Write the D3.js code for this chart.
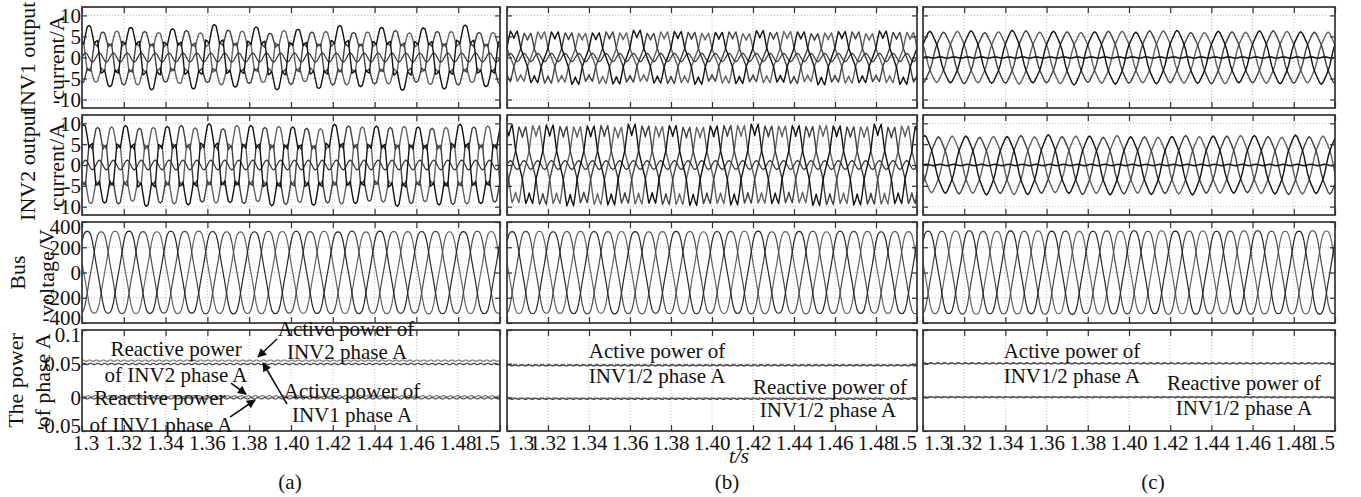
<!DOCTYPE html>
<html>
<head>
<meta charset="utf-8">
<script src="https://cdn.jsdelivr.net/npm/d3@7"></script>
<style>
  body { margin: 0; background: #fff; }
  text { font-family: "Liberation Serif", "Times New Roman", serif; fill: #111; }
</style>
</head>
<body>
<svg id="chart" width="1361" height="497"></svg>
<script>
// ---------- time axis (s) ----------
const timeStart = 1.3;
const timeEnd = 1.5;
const timeTicks = [1.3, 1.32, 1.34, 1.36, 1.38, 1.40, 1.42, 1.44, 1.46, 1.48, 1.5];
const timeTickLabels = ["1.3", "1.32", "1.34", "1.36", "1.38", "1.40", "1.42", "1.44", "1.46", "1.48", "1.5"];
const fundamentalHz = 50;
const samplesPerCycle = 24;
const halfCycleCount = 20;

// ---------- rows ----------
const rowTitles = [["INV1 output", "current/A"], ["INV2 output", "current/A"], ["Bus", "voltage/V"], ["The power", "of phase A"]];
const rowDomains = [[-12, 12], [-12, 12], [-400, 400], [-0.05, 0.1]];
const rowTicks = [[-10, -5, 0, 5, 10], [-10, -5, 0, 5, 10], [-400, -200, 0, 200, 400], [-0.05, 0, 0.05, 0.1]];
const rowTickLabels = [["-10", "-5", "0", "5", "10"], ["-10", "-5", "0", "5", "10"], ["-400", "-200", "0", "200", "400"], ["-0.05", "0", "0.05", "0.1"]];
const caseLabels = ["(a)", "(b)", "(c)"];

// ---------- one fundamental period of each waveform, per unit, 15° steps ----------
const currentCycleDroop = [0, 0.587, 0.55, 0.467, 0.779, 1.054, 1.10, 1.054, 0.779, 0.467, 0.55, 0.587,
                           0, -0.587, -0.55, -0.467, -0.779, -1.054, -1.10, -1.054, -0.779, -0.467, -0.55, -0.587];
const currentCycleShared = [0, 0.191, 0.385, 0.756, 1.065, 0.948, 0.77, 0.948, 1.065, 0.756, 0.385, 0.191,
                            0, -0.191, -0.385, -0.756, -1.065, -0.948, -0.77, -0.948, -1.065, -0.756, -0.385, -0.191];
const currentCycleClean = [0, 0.298, 0.52, 0.679, 0.831, 0.976, 1.04, 0.976, 0.831, 0.679, 0.52, 0.298,
                           0, -0.298, -0.52, -0.679, -0.831, -0.976, -1.04, -0.976, -0.831, -0.679, -0.52, -0.298];
const voltageCycle = [0, 0.23, 0.485, 0.728, 0.892, 0.958, 0.97, 0.958, 0.892, 0.728, 0.485, 0.23,
                      0, -0.23, -0.485, -0.728, -0.892, -0.958, -0.97, -0.958, -0.892, -0.728, -0.485, -0.23];
// zero-sequence ripple over one third of a period
const neutralRipple = [0, 0.7, 1, 0.7, 0, -0.7, -1, -0.7];
// power ripple over one 300 Hz period
const powerRipple = [0, 0.87, 0.87, 0, -0.87, -0.87];
const powerRipplesPerWindow = 60;

// ---------- peak value of every half cycle, phases a / b / c ----------
// INV1 output current (A)
const inv1CurrentCaseA = [[6.9, 6.3, 6.5, 7.0, 6.2, 6.8, 7.1, 6.4, 6.6, 7.0, 6.1, 6.7, 6.9, 6.3, 6.5, 7.1, 6.4, 6.8, 7.0, 6.3],
                          [5.5, 5.9, 5.6, 5.3, 5.8, 5.4, 5.9, 5.6, 5.2, 5.8, 5.5, 5.9, 5.4, 5.7, 5.8, 5.3, 5.6, 5.9, 5.4, 5.7],
                          [5.8, 5.3, 5.7, 5.9, 5.4, 5.6, 5.3, 5.9, 5.7, 5.4, 5.8, 5.2, 5.6, 5.9, 5.5, 5.7, 5.3, 5.8, 5.6, 5.4]];
const inv1CurrentCaseB = [[5.9, 5.6, 5.7, 6.0, 5.5, 5.9, 6.1, 5.7, 5.8, 6.0, 5.6, 5.8, 6.0, 5.5, 5.7, 6.1, 5.8, 5.6, 5.9, 6.0],
                          [5.4, 5.7, 5.5, 5.3, 5.7, 5.5, 5.4, 5.8, 5.6, 5.3, 5.7, 5.4, 5.6, 5.8, 5.3, 5.5, 5.7, 5.4, 5.6, 5.5],
                          [5.6, 5.3, 5.7, 5.5, 5.4, 5.8, 5.5, 5.3, 5.7, 5.6, 5.4, 5.7, 5.3, 5.6, 5.8, 5.4, 5.5, 5.7, 5.3, 5.6]];
const inv1CurrentCaseC = [[6.0, 5.8, 6.1, 5.9, 6.2, 5.8, 6.0, 6.3, 5.9, 6.1, 5.8, 6.0, 6.2, 5.9, 6.0, 5.8, 6.1, 6.0, 5.9, 6.1],
                          [5.8, 6.0, 5.7, 5.9, 6.1, 5.8, 5.9, 5.7, 6.0, 5.9, 6.1, 5.8, 5.7, 6.0, 5.9, 5.8, 6.1, 5.9, 5.8, 6.0],
                          [5.9, 5.7, 6.0, 5.8, 5.9, 6.1, 5.8, 6.0, 5.7, 5.9, 6.0, 5.8, 6.1, 5.9, 5.7, 6.0, 5.8, 5.9, 6.0, 5.8]];
// INV2 output current (A)
const inv2CurrentCaseA = [[8.8, 8.3, 8.6, 9.0, 8.4, 8.7, 9.0, 8.2, 8.6, 8.9, 8.3, 8.8, 8.9, 8.4, 8.5, 9.0, 8.3, 8.7, 8.9, 8.4],
                          [8.2, 8.5, 8.0, 8.3, 8.6, 8.1, 7.9, 8.4, 8.2, 8.6, 8.0, 8.3, 8.5, 7.9, 8.2, 8.4, 8.0, 8.6, 8.3, 8.1],
                          [8.0, 8.4, 8.3, 7.9, 8.2, 8.5, 8.1, 8.3, 8.6, 8.0, 8.4, 8.2, 7.9, 8.5, 8.3, 8.1, 8.4, 8.0, 8.2, 8.5]];
const inv2CurrentCaseB = [[9.1, 8.7, 9.0, 9.2, 8.8, 9.0, 9.2, 8.6, 8.9, 9.1, 8.8, 9.0, 9.2, 8.7, 8.9, 9.1, 8.8, 9.0, 9.2, 8.7],
                          [8.6, 8.9, 8.7, 8.5, 8.9, 8.6, 8.8, 8.9, 8.5, 8.7, 8.9, 8.6, 8.8, 8.5, 8.7, 8.9, 8.6, 8.8, 8.5, 8.7],
                          [8.8, 8.5, 8.9, 8.7, 8.6, 8.9, 8.5, 8.8, 8.7, 8.9, 8.5, 8.7, 8.9, 8.6, 8.8, 8.5, 8.9, 8.7, 8.6, 8.8]];
const inv2CurrentCaseC = [[6.8, 6.5, 6.7, 6.9, 6.6, 6.8, 7.0, 6.6, 6.7, 6.9, 6.5, 6.8, 6.6, 6.9, 6.7, 6.5, 6.8, 6.7, 6.9, 6.6],
                          [6.5, 6.7, 6.4, 6.6, 6.8, 6.5, 6.6, 6.8, 6.4, 6.7, 6.5, 6.6, 6.8, 6.5, 6.7, 6.4, 6.6, 6.8, 6.5, 6.7],
                          [6.6, 6.4, 6.7, 6.5, 6.6, 6.8, 6.5, 6.4, 6.7, 6.6, 6.8, 6.5, 6.4, 6.7, 6.6, 6.5, 6.8, 6.6, 6.4, 6.7]];
// bus voltage (V)
const busVoltageCaseA = [[336, 333, 338, 334, 337, 332, 335, 338, 333, 336, 337, 334, 332, 336, 338, 333, 335, 337, 334, 336],
                         [333, 336, 334, 332, 336, 338, 333, 335, 337, 332, 334, 336, 338, 333, 335, 332, 336, 334, 337, 333],
                         [335, 332, 337, 335, 333, 336, 338, 334, 332, 336, 335, 333, 337, 335, 332, 336, 334, 338, 333, 335]];
const busVoltageCaseB = [[334, 337, 333, 336, 335, 338, 334, 333, 336, 337, 335, 334, 338, 333, 336, 335, 337, 334, 333, 336],
                         [336, 333, 335, 338, 334, 336, 333, 337, 335, 334, 336, 338, 333, 335, 337, 334, 336, 333, 335, 337],
                         [333, 335, 337, 334, 336, 333, 335, 338, 334, 336, 333, 335, 337, 336, 334, 338, 333, 335, 336, 334]];
const busVoltageCaseC = [[339, 336, 341, 337, 340, 336, 338, 342, 337, 339, 341, 336, 338, 340, 337, 339, 341, 337, 338, 340],
                         [337, 340, 336, 339, 337, 341, 338, 336, 340, 338, 337, 341, 339, 336, 338, 340, 337, 339, 341, 336],
                         [338, 336, 339, 341, 336, 338, 340, 337, 336, 339, 338, 336, 341, 337, 339, 336, 340, 338, 337, 339]];
// zero-sequence current amplitude (A) for each case
const neutralInv1 = [1.1, 1.0, 0.12];
const neutralInv2 = [1.2, 1.1, 0.15];

// phase-A active / reactive power (p.u.) for each case
const activeInv1 = [0.0495, 0.0474, 0.0503];
const activeInv2 = [0.0545, 0.0478, 0.0507];
const reactiveInv1 = [-0.0015, -0.0022, 0.0001];
const reactiveInv2 = [0.0015, -0.0017, 0.0005];
const powerRippleAmp = [0.0011, 0.0009, 0.0009];

// ---------- layout ----------
const columns = [{x0: 82, x1: 500}, {x0: 507, x1: 917}, {x0: 923, x1: 1335}];
const rows = [{y0: 7, y1: 108}, {y0: 115, y1: 215}, {y0: 222, y1: 323}, {y0: 330, y1: 431}];
const titleBaselines = [[35, 64], [35, 64], [25, 54], [23, 50]];
const currentColors = ["#111111", "#404040", "#636363"];
const voltageColors = ["#262626", "#4a4a4a", "#656565"];
const frameColor = "#333333";
const fontSize = 21;
const titleFontSize = 22;

const svg = d3.select("#chart");
const defs = svg.append("defs");

// series builders
const halfCycle = samplesPerCycle / 2;
function phaseSeries(cycle, peaks, shift) {
  const n = halfCycleCount * halfCycle;
  const dt = 1 / (fundamentalHz * samplesPerCycle);
  const out = [];
  for (let i = 0; i <= n; i++) {
    const k = i + shift + samplesPerCycle;
    const idx = k % samplesPerCycle;
    const h = Math.min(peaks.length - 1, Math.max(0, Math.floor(k / halfCycle) - 2));
    out.push({t: timeStart + i * dt, v: cycle[idx] * peaks[h]});
  }
  return out;
}
function neutralSeries(amp) {
  const n = halfCycleCount * halfCycle;
  const dt = 1 / (fundamentalHz * samplesPerCycle);
  return d3.range(n + 1).map(i => ({t: timeStart + i * dt, v: neutralRipple[i % neutralRipple.length] * amp}));
}
function powerSeries(level, amp, shift) {
  const n = powerRipplesPerWindow * powerRipple.length;
  const dt = (timeEnd - timeStart) / n;
  return d3.range(n + 1).map(i => ({t: timeStart + i * dt, v: level + powerRipple[(i + shift) % powerRipple.length] * amp}));
}

const currentCycles = [currentCycleDroop, currentCycleShared, currentCycleClean];
const inv1Cases = [inv1CurrentCaseA, inv1CurrentCaseB, inv1CurrentCaseC];
const inv2Cases = [inv2CurrentCaseA, inv2CurrentCaseB, inv2CurrentCaseC];
const busCases = [busVoltageCaseA, busVoltageCaseB, busVoltageCaseC];
const third = samplesPerCycle / 3;

function panelSeries(r, c) {
  if (r === 0 || r === 1) {
    const peaks = r === 0 ? inv1Cases[c] : inv2Cases[c];
    const start = r === 0 ? 2 : 5;
    const neutral = r === 0 ? neutralInv1[c] : neutralInv2[c];
    return [
      {pts: phaseSeries(currentCycles[c], peaks[2], start + third), color: currentColors[2], w: 1.4},
      {pts: phaseSeries(currentCycles[c], peaks[1], start - third), color: currentColors[1], w: 1.4},
      {pts: neutralSeries(neutral), color: c === 2 ? "#1a1a1a" : "#333", w: c === 2 ? 1.6 : 1.2},
      {pts: phaseSeries(currentCycles[c], peaks[0], start), color: currentColors[0], w: 1.4}
    ];
  }
  if (r === 2) {
    const peaks = busCases[c];
    const start = 3;
    return [
      {pts: phaseSeries(voltageCycle, peaks[2], start + third), color: voltageColors[2], w: 1.2},
      {pts: phaseSeries(voltageCycle, peaks[1], start - third), color: voltageColors[1], w: 1.2},
      {pts: phaseSeries(voltageCycle, peaks[0], start), color: voltageColors[0], w: 1.2}
    ];
  }
  return [
    {pts: powerSeries(activeInv2[c], powerRippleAmp[c], 1), color: "#7a7a7a", w: 1.2},
    {pts: powerSeries(activeInv1[c], powerRippleAmp[c], 0), color: "#4a4a4a", w: 1.2},
    {pts: powerSeries(reactiveInv2[c], powerRippleAmp[c], 2), color: "#7a7a7a", w: 1.2},
    {pts: powerSeries(reactiveInv1[c], powerRippleAmp[c], 0), color: "#4a4a4a", w: 1.2}
  ];
}

// annotations in the power row, in data coordinates (t, p.u.)
const powerNotes = [
  {col: 0, text: "Active power of", t: 1.4263, v: 0.0911},
  {col: 0, text: "INV2 phase A", t: 1.4268, v: 0.0569},
  {col: 0, text: "Reactive power", t: 1.3450, v: 0.0614},
  {col: 0, text: "of INV2 phase A", t: 1.3450, v: 0.0227},
  {col: 0, text: "Active power of", t: 1.4292, v: -0.0010},
  {col: 0, text: "INV1 phase A", t: 1.4292, v: -0.0367},
  {col: 0, text: "Reactive power", t: 1.3373, v: -0.0114},
  {col: 0, text: "of INV1 phase A", t: 1.3378, v: -0.0516},
  {col: 1, text: "Active power of", t: 1.3732, v: 0.0584},
  {col: 1, text: "INV1/2 phase A", t: 1.3732, v: 0.0212},
  {col: 1, text: "Reactive power of", t: 1.4576, v: 0.0046},
  {col: 1, text: "INV1/2 phase A", t: 1.4566, v: -0.0293},
  {col: 2, text: "Active power of", t: 1.3723, v: 0.0584},
  {col: 2, text: "INV1/2 phase A", t: 1.3723, v: 0.0212},
  {col: 2, text: "Reactive power of", t: 1.4558, v: 0.0108},
  {col: 2, text: "INV1/2 phase A", t: 1.4558, v: -0.0263}
];
const powerArrows = [
  {t0: 1.3933, v0: 0.0866, t1: 1.3842, v1: 0.0599},
  {t0: 1.3981, v0: -0.0100, t1: 1.3866, v1: 0.0510},
  {t0: 1.3713, v0: 0.0212, t1: 1.3785, v1: 0.0046},
  {t0: 1.3708, v0: -0.0293, t1: 1.3828, v1: -0.0040}
];

defs.append("marker")
  .attr("id", "head").attr("viewBox", "0 0 10 10")
  .attr("refX", 9).attr("refY", 5)
  .attr("markerWidth", 11).attr("markerHeight", 9)
  .attr("markerUnits", "userSpaceOnUse")
  .attr("orient", "auto")
  .append("path").attr("d", "M0,0 L10,5 L0,10 Z").attr("fill", "#111");

const line = d3.line();

rows.forEach((row, r) => {
  const y = d3.scaleLinear().domain(rowDomains[r]).range([row.y1, row.y0]);

  columns.forEach((col, c) => {
    const x = d3.scaleLinear().domain([timeStart, timeEnd]).range([col.x0, col.x1]);
    const g = svg.append("g");
    const clipId = `clip-${r}-${c}`;
    defs.append("clipPath").attr("id", clipId)
      .append("rect").attr("x", col.x0).attr("y", row.y0)
      .attr("width", col.x1 - col.x0).attr("height", row.y1 - row.y0);

    // dotted grid
    const grid = g.append("g").attr("stroke", "#b0b0b0").attr("stroke-width", 0.8).attr("stroke-dasharray", "1,2");
    grid.selectAll("line.vx").data(timeTicks.slice(1, -1)).join("line")
      .attr("x1", d => x(d)).attr("x2", d => x(d)).attr("y1", row.y0).attr("y2", row.y1);
    grid.selectAll("line.hy").data(rowTicks[r].filter(v => v > rowDomains[r][0] && v < rowDomains[r][1])).join("line")
      .attr("x1", col.x0).attr("x2", col.x1).attr("y1", d => y(d)).attr("y2", d => y(d));

    // waveforms
    const traces = g.append("g").attr("clip-path", `url(#${clipId})`);
    line.x(d => x(d.t)).y(d => y(d.v));
    panelSeries(r, c).forEach(s => {
      traces.append("path").attr("d", line(s.pts))
        .attr("fill", "none").attr("stroke", s.color).attr("stroke-width", s.w)
        .attr("stroke-linejoin", "round");
    });

    // inward ticks on all four sides
    const tickLen = 6;
    const axTop = g.append("g").attr("transform", `translate(0,${row.y0})`)
      .call(d3.axisBottom(x).tickValues(timeTicks).tickSize(tickLen).tickFormat(""));
    const axBot = g.append("g").attr("transform", `translate(0,${row.y1})`)
      .call(d3.axisTop(x).tickValues(timeTicks).tickSize(tickLen).tickFormat(""));
    const axL = g.append("g").attr("transform", `translate(${col.x0},0)`)
      .call(d3.axisRight(y).tickValues(rowTicks[r]).tickSize(5).tickFormat(""));
    const axR = g.append("g").attr("transform", `translate(${col.x1},0)`)
      .call(d3.axisLeft(y).tickValues(rowTicks[r]).tickSize(5).tickFormat(""));
    [axTop, axBot, axL, axR].forEach(a => {
      a.select(".domain").remove();
      a.selectAll("line").attr("stroke", frameColor).attr("stroke-width", 1.2);
    });

    // frame
    g.append("rect").attr("x", col.x0).attr("y", row.y0)
      .attr("width", col.x1 - col.x0).attr("height", row.y1 - row.y0)
      .attr("fill", "none").attr("stroke", frameColor).attr("stroke-width", 1.7);

    // y tick labels on the first column
    if (c === 0) {
      g.selectAll("text.ytl").data(rowTicks[r]).join("text")
        .attr("x", col.x0 - 1)
        .attr("y", (d) => {
          let yy = y(d);
          if (d === rowDomains[r][1]) yy += 5;
          if (d === rowDomains[r][0]) yy -= 5;
          return yy;
        })
        .attr("dy", "0.35em")
        .attr("text-anchor", "end")
        .attr("font-size", fontSize)
        .text((d, i) => rowTickLabels[r][i]);
    }

    // x tick labels on the bottom row
    if (r === rows.length - 1) {
      g.selectAll("text.xtl").data(timeTicks).join("text")
        .attr("x", (d, i) => {
          if (i === 0) return c === 0 ? x(d) + 4 : x(d) + 1;
          return x(d);
        })
        .attr("y", row.y1 + 19)
        .attr("text-anchor", (d, i) => i === timeTicks.length - 1 ? "end" : (i === 0 && c > 0 ? "start" : "middle"))
        .attr("font-size", fontSize)
        .text((d, i) => timeTickLabels[i]);

      // annotations
      powerNotes.filter(n => n.col === c).forEach(n => {
        g.append("text").attr("x", x(n.t)).attr("y", y(n.v))
          .attr("text-anchor", "middle").attr("font-size", fontSize).text(n.text);
      });
      if (c === 0) {
        powerArrows.forEach(a => {
          g.append("line").attr("x1", x(a.t0)).attr("y1", y(a.v0))
            .attr("x2", x(a.t1)).attr("y2", y(a.v1))
            .attr("stroke", "#111").attr("stroke-width", 1.6)
            .attr("marker-end", "url(#head)");
        });
      }
    }
  });

  // row titles (two rotated lines)
  const yc = (row.y0 + row.y1) / 2;
  rowTitles[r].forEach((txt, k) => {
    svg.append("text")
      .attr("transform", `translate(${titleBaselines[r][k]},${yc}) rotate(-90)`)
      .attr("text-anchor", "middle")
      .attr("font-size", titleFontSize)
      .text(txt);
  });
});

// time-axis title and case captions
svg.append("text").attr("x", 739).attr("y", 463).attr("text-anchor", "middle")
  .attr("font-size", fontSize).attr("font-style", "italic").text("t/s");
const captionX = [290, 727, 1153];
caseLabels.forEach((lab, i) => {
  svg.append("text").attr("x", captionX[i]).attr("y", 489).attr("text-anchor", "middle")
    .attr("font-size", fontSize).text(lab);
});
</script>
</body>
</html>
